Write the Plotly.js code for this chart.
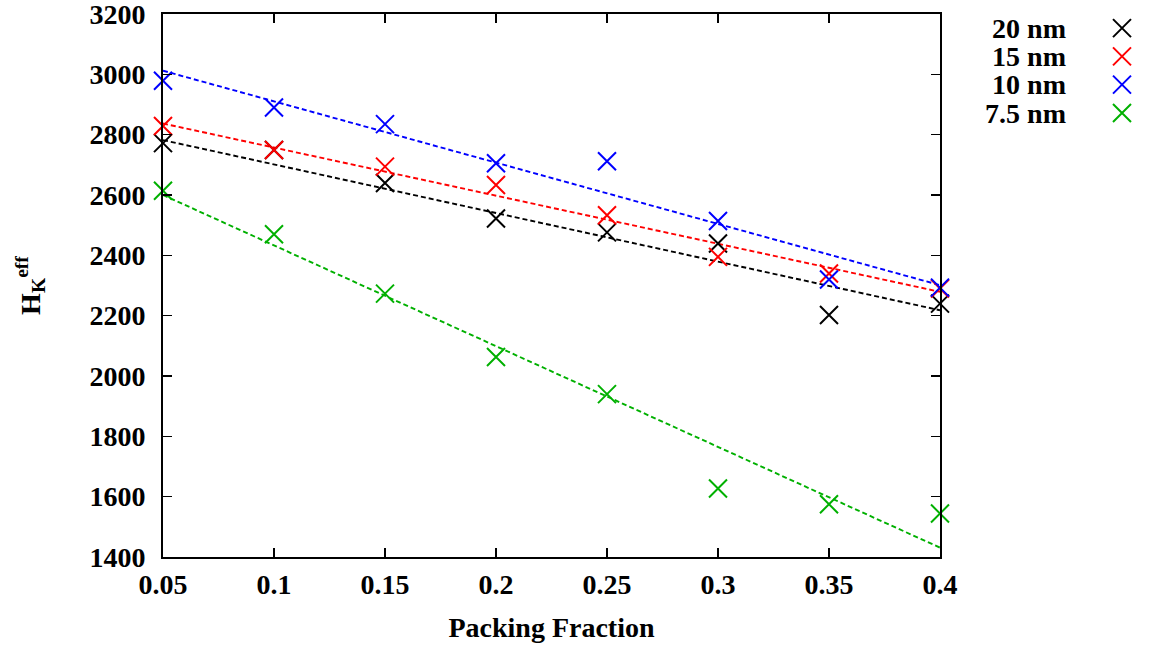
<!DOCTYPE html>
<html>
<head>
<meta charset="utf-8">
<script src="https://cdn.plot.ly/plotly-3.0.1.min.js"></script>
<style>html,body{margin:0;padding:0;background:#fff;}#chart{width:1173px;height:647px;}</style>
</head>
<body>
<div id="chart"></div>
<script>
// ---- data ----
var packingFraction = [0.05, 0.10, 0.15, 0.20, 0.25, 0.30, 0.35, 0.40];
var seriesNames = ["20 nm", "15 nm", "10 nm", "7.5 nm"];
var seriesColors = ["#000000", "#ff0000", "#0000ff", "#00b000"];
var hk20 = [2772, 2749, 2640, 2522, 2476, 2439, 2202, 2240];
var hk15 = [2829, 2749, 2694, 2633, 2533, 2395, 2340, 2290];
var hk10 = [2979, 2890, 2835, 2705, 2712, 2514, 2320, 2293];
var hk75 = [2614, 2470, 2273, 2063, 1940, 1627, 1575, 1544];
// linear fit lines (end values read at x = 0.05 and x = 0.40)
var fitX = [0.05, 0.40];
var fit20 = [2782, 2218];
var fit15 = [2837, 2279];
var fit10 = [3012, 2301];
var fit75 = [2600, 1431];
var xTickVals = [0.05, 0.1, 0.15, 0.2, 0.25, 0.3, 0.35, 0.4];
var yTickVals = [1400, 1600, 1800, 2000, 2200, 2400, 2600, 2800, 3000, 3200];

var FONT = "Liberation Serif, Times New Roman, serif";
var allData = [hk20, hk15, hk10, hk75];
var allFits = [fit20, fit15, fit10, fit75];

var traces = [];
for (var i = 0; i < 4; i++) {
  traces.push({
    x: fitX, y: allFits[i], type: "scatter", mode: "lines",
    line: {color: seriesColors[i], width: 1.9, dash: "5px,3px"},
    showlegend: false, hoverinfo: "skip", xaxis: "x", yaxis: "y"
  });
}
for (var j = 0; j < 4; j++) {
  traces.push({
    x: packingFraction, y: allData[j], type: "scatter", mode: "markers",
    name: seriesNames[j], cliponaxis: false,
    marker: {symbol: "x-thin-open", size: 18, color: seriesColors[j],
             line: {color: seriesColors[j], width: 2}},
    showlegend: false, xaxis: "x", yaxis: "y"
  });
}
// key drawn on its own small axes: names as tick labels, marker to the right
traces.push({
  x: seriesNames.map(function(){return 0;}), y: seriesNames,
  type: "scatter", mode: "markers", cliponaxis: false,
  marker: {symbol: "x-thin-open", size: 18, color: seriesColors,
           line: {color: seriesColors, width: 2}},
  showlegend: false, hoverinfo: "skip", xaxis: "x2", yaxis: "y2"
});

var W = 1173, H = 647;
var mL = 163, mR = 13, mT = 14, mB = 90;
var pw = W - mL - mR;
var ph = H - mT - mB;
var plotRight = 940;
var xDomMain = [0, (plotRight - mL) / pw];
var keyLeft = 1067, keyRight = 1144, keyCenter = 1122;
var x2Dom = [(keyLeft - mL) / pw, (keyRight - mL) / pw];
var frac = (keyCenter - keyLeft) / (keyRight - keyLeft);
var x2Range = [-frac, 1 - frac];
var rowH = 28.3;
var keyTop = 28 - rowH / 2, keyBot = keyTop + 4 * rowH;
var y2Dom = [(H - mB - keyBot) / ph, Math.min(1, (H - mB - keyTop) / ph)];

var tickFont = {family: FONT, size: 28, color: "#000", weight: "bold"};
var titleFont = {family: FONT, size: 28, color: "#000", weight: "bold"};

var layout = {
  width: W, height: H,
  margin: {l: mL, r: mR, t: mT, b: mB, pad: 0},
  paper_bgcolor: "#fff", plot_bgcolor: "#fff",
  font: {family: FONT, color: "#000"},
  showlegend: false,
  xaxis: {
    domain: xDomMain, range: [0.05, 0.4], tickvals: xTickVals,
    ticks: "inside", ticklen: 9, tickwidth: 1.5, tickcolor: "#000",
    showline: true, linecolor: "#000", linewidth: 2, mirror: "ticks",
    showgrid: false, zeroline: false, tickfont: tickFont, ticklabelstandoff: 1,
    ticklabeloverflow: "allow",
    title: {text: "Packing Fraction", font: titleFont, standoff: 19}
  },
  yaxis: {
    domain: [0, 1], range: [1400, 3200], tickvals: yTickVals,
    ticks: "inside", ticklen: 9, tickwidth: 1.5, tickcolor: "#000",
    showline: true, linecolor: "#000", linewidth: 2, mirror: "ticks",
    showgrid: false, zeroline: false, tickfont: tickFont, ticklabelstandoff: 10,
    ticklabeloverflow: "allow",
    title: {text: "H<sub>K</sub><sup>eff</sup>", font: titleFont, standoff: 41}
  },
  xaxis2: {
    domain: x2Dom, range: x2Range, anchor: "y2",
    visible: false, fixedrange: true
  },
  yaxis2: {
    domain: y2Dom, anchor: "x2", type: "category",
    categoryorder: "array", categoryarray: seriesNames,
    tickmode: "array", tickvals: seriesNames, ticktext: seriesNames,
    range: [3.5, -0.5],
    showline: false, showgrid: false, zeroline: false, ticks: "",
    tickfont: tickFont, ticklabelstandoff: 0, fixedrange: true,
    ticklabeloverflow: "allow"
  }
};

Plotly.newPlot("chart", traces, layout, {displayModeBar: false, staticPlot: true});
</script>
</body>
</html>
